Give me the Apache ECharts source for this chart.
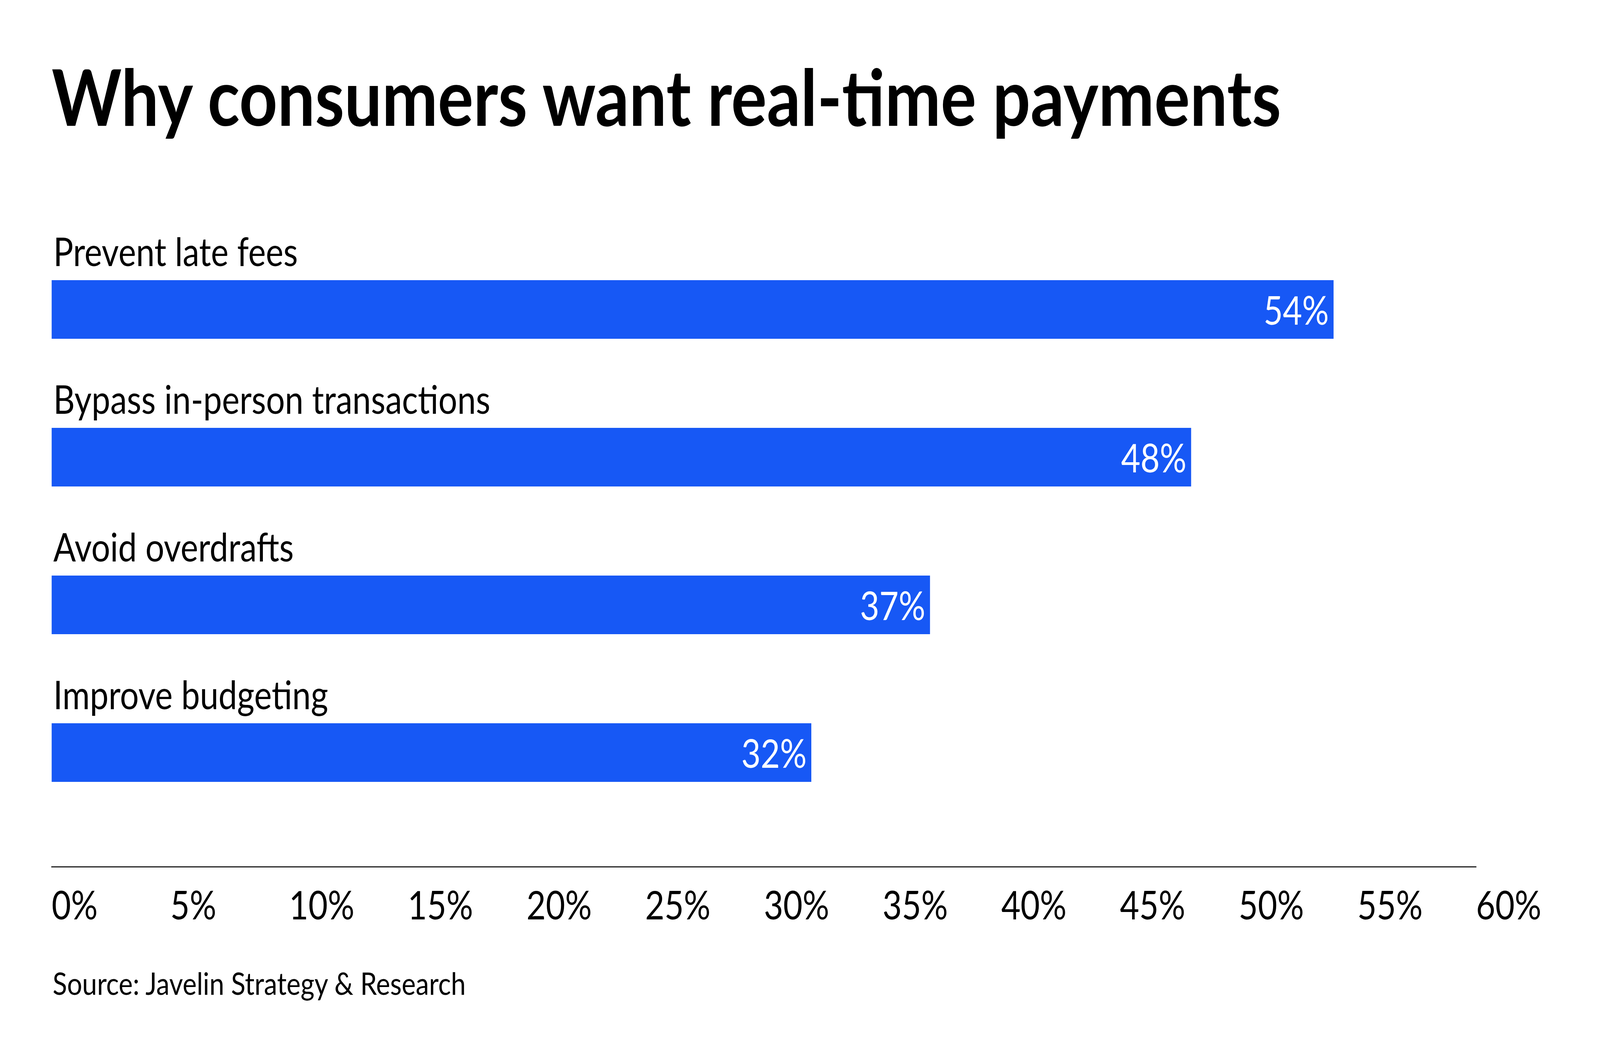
<!DOCTYPE html>
<html>
	<head>
		<meta charset="UTF-8">
		<title>Why consumers want real-time payments</title>
		<style>
			html, body { margin: 0; padding: 0; background: #ffffff; overflow: hidden; }
			#main { width: 4800px; height: 2700px; transform-origin: 0 0; }
		</style>
	</head>
	<body>
		<div id="main"></div>
		<script src="https://cdn.jsdelivr.net/npm/echarts@6/dist/echarts.min.js"></script>
		<script type="text/javascript">
			// data
			var categories = ['Prevent late fees', 'Bypass in-person transactions', 'Avoid overdrafts', 'Improve budgeting'];
			var values = [54, 48, 37, 32];
			var axisMin = 0;
			var axisMax = 60;
			var axisStep = 5;

			// the layout is drawn at 4800x2700, then fitted to whatever window we get
			var box = document.getElementById('main');
			var sx = window.innerWidth / 4800;
			var sy = window.innerHeight / 2700;
			box.style.transform = 'scale(' + sx + ',' + sy + ')';

			var myChart = echarts.init(box, null, { renderer: 'svg' });

			var option = {
				backgroundColor: '#ffffff',
				animation: false,
				textStyle: { fontFamily: 'Lato' },
				title: [{
					text: 'Why consumers want real-time payments',
					left: 150,
					top: 140,
					textStyle: { fontFamily: 'Lato', fontWeight: 'bold', fontSize: 200, color: '#000000' }
				}, {
					text: 'Source: Javelin Strategy & Research',
					left: 153,
					top: 2470,
					textStyle: { fontFamily: 'Lato', fontWeight: 'normal', fontSize: 80, color: '#000000' }
				}],
				grid: {
					left: 155,
					right: 372,
					top: 603,
					bottom: 585,
					containLabel: false
				},
				xAxis: {
					type: 'value',
					min: axisMin,
					max: axisMax,
					interval: axisStep,
					offset: 103,
					axisLine: { show: true, lineStyle: { color: '#222222', width: 3 } },
					axisTick: { show: false },
					splitLine: { show: false },
					axisLabel: {
						formatter: '{value}%',
						align: 'left',
						margin: 46,
						fontFamily: 'Lato',
						fontSize: 100,
						color: '#000000'
					}
				},
				yAxis: {
					type: 'category',
					data: categories,
					inverse: true,
					axisLine: { show: false },
					axisTick: { show: false },
					splitLine: { show: false },
					axisLabel: {
						inside: true,
						margin: 5,
						align: 'left',
						verticalAlign: 'bottom',
						padding: [0, 0, 100, 0],
						fontFamily: 'Lato',
						fontSize: 100,
						color: '#000000'
					}
				},
				series: [{
					type: 'bar',
					data: values,
					barWidth: 150,
					itemStyle: { color: '#1758F5' },
					label: {
						show: true,
						position: 'insideRight',
						distance: 14,
						formatter: '{c}%',
						fontFamily: 'Lato',
						fontSize: 100,
						color: '#ffffff'
					}
				}]
			};

			myChart.setOption(option);
		</script>
	</body>
</html>
